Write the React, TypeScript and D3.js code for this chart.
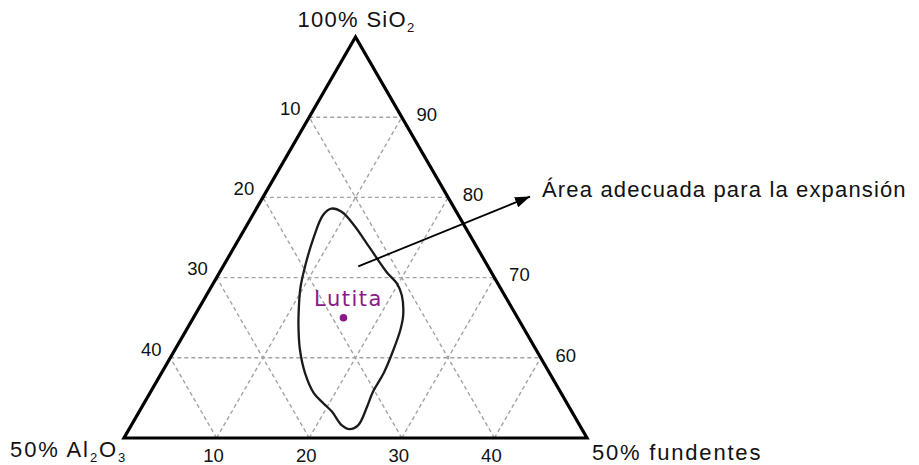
import React from "react";
import * as d3 from "d3";

// Ternary data (SiO2 % from 50 to 100, fundentes % from 0 to 50; Al2O3 = 100 - SiO2 - fundentes)
const gridLevels = [10, 20, 30, 40];
const sio2Ticks = ["90", "80", "70", "60"];
const al2o3Ticks = ["10", "20", "30", "40"];
const fundTicks = ["10", "20", "30", "40"];

// contour of the suitable expansion area: [SiO2, fundentes]
const areaSio2 = [78.6, 78.2, 76.6, 73.7, 70.7, 69.3, 67.8, 65.3, 63.5, 61.0, 58.1, 55.8, 53.9, 51.6, 51.1, 51.6, 53.3, 54.3, 55.6, 58.1, 61.0, 63.5, 65.3, 68.7, 71.6, 74.9, 77.8];
const areaFund = [8.1, 9.4, 11.5, 14.7, 18.0, 19.8, 21.1, 22.5, 23.1, 23.6, 24.0, 24.0, 24.3, 24.5, 23.8, 22.7, 20.8, 19.4, 17.7, 15.5, 13.5, 12.1, 11.2, 9.7, 8.8, 8.0, 7.6];

const lutitaSio2 = 65.0;
const lutitaFund = 16.2;

// annotation arrow: [SiO2, fundentes] start and end
const arrowSio2 = [71.4, 80.1];
const arrowFund = [14.6, 28.8];

const W = 919;
const H = 465;

const xScale = d3.scaleLinear().domain([0, 1]).range([124, 587]);
const yScale = d3.scaleLinear().domain([50, 100]).range([438, 37]);

function project(s: number, f: number): [number, number] {
  const S = (s - 50) / 50;
  const F = f / 50;
  return [xScale(F + S / 2), yScale(s)];
}

const FONT = "'Liberation Sans', Arial, Helvetica, sans-serif";

export default function App() {
  const top = project(100, 0);
  const bl = project(50, 0);
  const br = project(50, 50);

  const gridLines: [number, number][][] = [];
  gridLevels.forEach((k) => {
    gridLines.push([project(50 + k, 0), project(50 + k, 50 - k)]);
    gridLines.push([project(50, k), project(100 - k, k)]);
    gridLines.push([project(50, 50 - k), project(100 - k, 0)]);
  });

  const line = d3.line<[number, number]>();
  const areaPts = areaSio2.map((s, i) => project(s, areaFund[i]));
  const areaPath = d3.line<[number, number]>().curve(d3.curveCatmullRomClosed.alpha(0.5))(areaPts) || "";

  const dot = project(lutitaSio2, lutitaFund);
  const a0 = project(arrowSio2[0], arrowFund[0]);
  const a1 = project(arrowSio2[1], arrowFund[1]);

  return (
    <svg width={W} height={H} style={{ position: "absolute", left: 0, top: 0, background: "#fff" }}>
      <defs>
        <marker id="arrowHead" markerUnits="userSpaceOnUse" markerWidth={16} markerHeight={12} refX={15} refY={5.5} orient="auto">
          <path d="M0,0 L15,5.5 L0,11 Z" fill="#000" />
        </marker>
      </defs>
      <rect x={0} y={0} width={W} height={H} fill="#fff" />
      {gridLines.map((pts, i) => (
        <path key={i} d={line(pts) || ""} stroke="#a3a3a3" strokeWidth={1.4} strokeDasharray="4,3" fill="none" />
      ))}
      <path d={line([top, bl, br]) + "Z"} fill="none" stroke="#000" strokeWidth={3.2} strokeLinejoin="miter" />

      {gridLevels.map((k, i) => {
        const p = project(100 - k, 0);
        return (
          <text key={"l" + k} x={p[0] - 19} y={p[1] - 7} fontFamily={FONT} fontSize={18.5} textAnchor="middle" dominantBaseline="middle" fill="#111">
            {al2o3Ticks[i]}
          </text>
        );
      })}
      {gridLevels.map((k, i) => {
        const p = project(100 - k, k);
        return (
          <text key={"r" + k} x={p[0] + 25} y={p[1] - 1} fontFamily={FONT} fontSize={18.5} textAnchor="middle" dominantBaseline="middle" fill="#111">
            {sio2Ticks[i]}
          </text>
        );
      })}
      {gridLevels.map((k, i) => {
        const p = project(50, k);
        return (
          <text key={"b" + k} x={p[0] - 3} y={p[1] + 24} fontFamily={FONT} fontSize={18.5} textAnchor="middle" fill="#111">
            {fundTicks[i]}
          </text>
        );
      })}

      <text x={top[0] + 1} y={27} fontFamily={FONT} fontSize={22} letterSpacing={1.3} textAnchor="middle" fill="#111">
        100% SiO<tspan fontSize={13} dy={5}>2</tspan>
      </text>
      <text x={10} y={bl[1] + 19} fontFamily={FONT} fontSize={22} letterSpacing={1.9} fill="#111">
        50% Al<tspan fontSize={13} dy={5}>2</tspan>
        <tspan dy={-5}>O</tspan>
        <tspan fontSize={13} dy={5}>3</tspan>
      </text>
      <text x={br[0] + 5} y={br[1] + 22} fontFamily={FONT} fontSize={22} letterSpacing={1.8} fill="#111">
        50% fundentes
      </text>

      <path d={areaPath} fill="none" stroke="#1a1a1a" strokeWidth={2.3} />

      <line x1={a0[0]} y1={a0[1]} x2={a1[0]} y2={a1[1]} stroke="#000" strokeWidth={1.8} markerEnd="url(#arrowHead)" />
      <text x={a1[0] + 12} y={a1[1]} fontFamily={FONT} fontSize={22} letterSpacing={1.15} fill="#111">
        Área adecuada para la expansión
      </text>

      <circle cx={dot[0]} cy={dot[1]} r={3.8} fill="#8a1a8a" />
      <text x={dot[0] + 5} y={dot[1] - 12} fontFamily="'DejaVu Sans', Verdana, sans-serif" fontSize={21} letterSpacing={1.5} textAnchor="middle" fill="#8a1a8a">
        Lutita
      </text>
    </svg>
  );
}
